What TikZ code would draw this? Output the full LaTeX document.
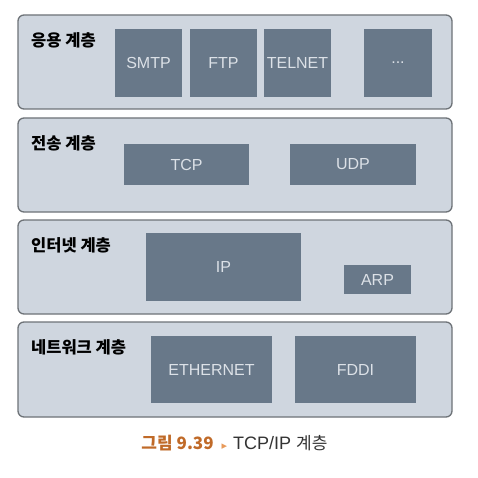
\documentclass[tikz,border=0pt]{standalone}
\usepackage{fontspec}
\setmainfont{Liberation Sans}
\newfontfamily\kr{Noto Sans CJK KR}
\newfontfamily\djv{DejaVu Sans}
\definecolor{layerfill}{HTML}{CFD6DF}
\definecolor{layerdraw}{HTML}{6E7378}
\definecolor{boxfill}{HTML}{687889}
\definecolor{boxtext}{HTML}{DCE1E7}
\definecolor{capor}{HTML}{C06A28}
\definecolor{tri}{HTML}{E89A5A}
\definecolor{captext}{HTML}{333333}
\tikzset{
  layer/.style={draw=layerdraw, line width=1.3pt, fill=layerfill, rounded corners=6pt},
  proto/.style={fill=boxfill, text=boxtext, font=\fontsize{16}{19}\selectfont, inner sep=0pt},
  lbl/.style={anchor=base west, inner sep=0pt, font=\kr\bfseries\fontsize{16.5}{19}\selectfont},
}
\begin{document}
\begin{tikzpicture}[x=1pt,y=-1pt]
\useasboundingbox (0,0) rectangle (477,478);
\fill[white] (0,0) rectangle (477,478);
% layers
\node[layer, minimum width=434pt, minimum height=94pt] (app) at (235,62) {};
\node[layer, minimum width=434pt, minimum height=94pt] (trn) at (235,165) {};
\node[layer, minimum width=434pt, minimum height=94pt] (inet) at (235,267) {};
\node[layer, minimum width=434pt, minimum height=95pt] (net) at (235,369.5) {};
% labels
\node[lbl] (lapp) at (31,47) {응용 계층};
\node[lbl] (ltrn) at (31,150) {전송 계층};
\node[lbl] (linet) at (31,251) {인터넷 계층};
\node[lbl] (lnet) at (31,353) {네트워크 계층};
% application
\node[proto, minimum width=67pt, minimum height=68pt] (smtp) at (148.5,63) {SMTP};
\node[proto, minimum width=67pt, minimum height=68pt] (ftp) at (223.5,63) {FTP};
\node[proto, minimum width=67pt, minimum height=68pt] (telnet) at (297.5,63) {TELNET};
\node[proto, minimum width=68pt, minimum height=68pt] (etc) at (398,63) {...};
% transport
\node[proto, minimum width=125pt, minimum height=41pt] (tcp) at (186.5,164.5) {TCP};
\node[proto, minimum width=126pt, minimum height=41pt] (udp) at (353,164.5) {UDP};
% internet
\node[proto, minimum width=155pt, minimum height=68pt] (ip) at (223.5,267) {IP};
\node[proto, minimum width=67pt, minimum height=29pt] (arp) at (377.5,279.5) {ARP};
% network
\node[proto, minimum width=121pt, minimum height=67pt] (eth) at (211.5,369.5) {ETHERNET};
\node[proto, minimum width=121pt, minimum height=67pt] (fddi) at (355.5,369.5) {FDDI};
% caption
\node[inner sep=0pt, text=captext, font=\fontsize{18}{21}\selectfont] (cap) at (234.5,443)
  {{\color{capor}\kr\bfseries\fontsize{17}{20}\selectfont 그림 9.39}\hspace{8pt}{\color{tri}\djv\fontsize{11}{12}\selectfont ▸}\hspace{6pt}TCP/IP {\kr\fontsize{17}{20}\selectfont 계층}};
\end{tikzpicture}
\end{document}
